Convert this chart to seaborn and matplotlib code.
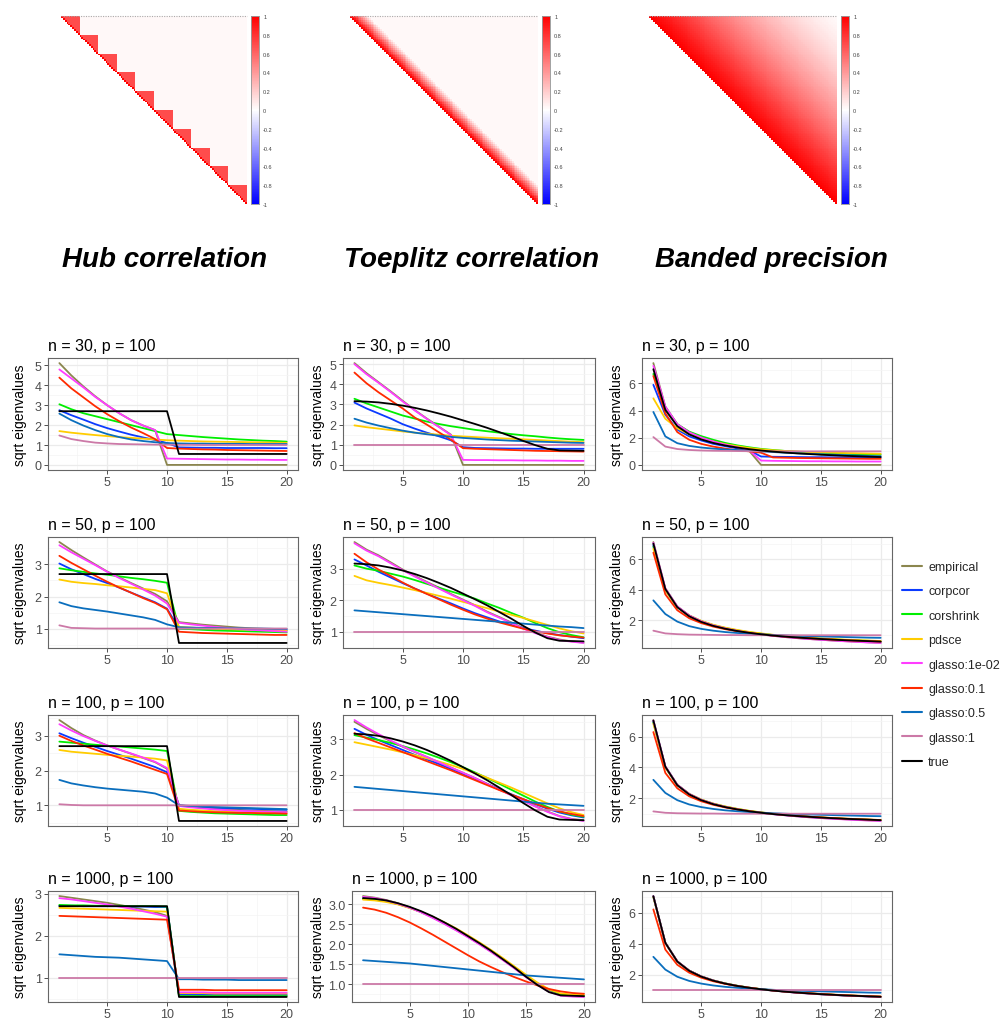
import numpy as np
import pandas as pd
import matplotlib
matplotlib.use("Agg")
import matplotlib.pyplot as plt
from matplotlib.colors import LinearSegmentedColormap
from matplotlib.lines import Line2D
from matplotlib.ticker import FixedLocator, MultipleLocator, AutoMinorLocator, FormatStrFormatter
import seaborn as sns

sns.set_theme(style="white")
plt.rcParams["font.family"] = ["Liberation Sans", "DejaVu Sans"]

# ---------------------------------------------------------------- methods
METHODS = ["empirical", "corpcor", "corshrink", "pdsce", "glasso:1e-02",
           "glasso:0.1", "glasso:0.5", "glasso:1", "true"]
COLORS = ["#8B864E", "#0B3BFF", "#00EE00", "#FFCC00", "#FF3DFF",
          "#FF2A00", "#0A6EBD", "#CC79A7", "#000000"]
INDEX = list(range(1, 21))

# ---------------------------------------------------------------- correlation structures
P = 100
HUB_BLOCK = 10
HUB_WITHIN = 0.7
BACKGROUND_CORR = 0.03
TOEPLITZ_LAG_CORR = [1.0, 0.9, 0.8, 0.7, 0.6, 0.5, 0.4, 0.3, 0.2, 0.1]
BANDED_LAGS = [0, 10, 20, 30, 40, 50, 60, 70, 80, 90, 99]
BANDED_LAG_CORR = [1.0, 0.88, 0.75, 0.62, 0.5, 0.39, 0.29, 0.2, 0.12, 0.06, 0.02]

# ---------------------------------------------------------------- sqrt eigenvalues: hub
HUB_N30 = {
    "empirical":    [5.12, 4.5, 3.95, 3.45, 3.0, 2.6, 2.25, 1.98, 1.75, 0.0, 0.0, 0.0, 0.0, 0.0, 0.0, 0.0, 0.0, 0.0, 0.0, 0.0],
    "corpcor":      [2.75, 2.5, 2.28, 2.05, 1.85, 1.68, 1.52, 1.38, 1.25, 1.1, 0.88, 0.87, 0.86, 0.86, 0.85, 0.85, 0.85, 0.85, 0.84, 0.84],
    "corshrink":    [3.05, 2.8, 2.6, 2.45, 2.3, 2.15, 2.0, 1.85, 1.7, 1.55, 1.5, 1.45, 1.4, 1.36, 1.32, 1.28, 1.25, 1.22, 1.2, 1.17],
    "pdsce":        [1.7, 1.62, 1.56, 1.5, 1.45, 1.4, 1.36, 1.32, 1.28, 1.24, 1.22, 1.2, 1.18, 1.17, 1.16, 1.15, 1.14, 1.13, 1.12, 1.11],
    "glasso:1e-02": [4.8, 4.35, 3.9, 3.42, 3.0, 2.6, 2.25, 1.98, 1.75, 0.32, 0.31, 0.3, 0.29, 0.28, 0.27, 0.27, 0.26, 0.26, 0.25, 0.25],
    "glasso:0.1":   [4.39, 3.85, 3.4, 2.95, 2.55, 2.2, 1.88, 1.6, 1.3, 0.85, 0.82, 0.8, 0.78, 0.77, 0.75, 0.74, 0.73, 0.72, 0.71, 0.7],
    "glasso:0.5":   [2.58, 2.25, 1.98, 1.75, 1.55, 1.4, 1.28, 1.2, 1.14, 1.1, 1.08, 1.07, 1.07, 1.06, 1.06, 1.06, 1.05, 1.05, 1.05, 1.05],
    "glasso:1":     [1.48, 1.3, 1.2, 1.12, 1.08, 1.05, 1.04, 1.03, 1.02, 1.02, 1.01, 1.01, 1.0, 1.0, 1.0, 1.0, 1.0, 1.0, 1.0, 1.0],
    "true":         [2.7, 2.7, 2.7, 2.7, 2.7, 2.7, 2.7, 2.7, 2.7, 2.7, 0.55, 0.55, 0.55, 0.55, 0.55, 0.55, 0.55, 0.55, 0.55, 0.55],
}
HUB_N50 = {
    "empirical":    [3.7, 3.45, 3.22, 3.0, 2.78, 2.6, 2.42, 2.25, 2.08, 1.85, 1.2, 1.16, 1.12, 1.09, 1.06, 1.03, 1.01, 0.99, 0.97, 0.95],
    "corpcor":      [3.03, 2.85, 2.7, 2.55, 2.42, 2.28, 2.12, 1.97, 1.82, 1.62, 1.0, 0.99, 0.98, 0.98, 0.97, 0.97, 0.97, 0.96, 0.96, 0.96],
    "corshrink":    [2.88, 2.82, 2.77, 2.72, 2.68, 2.63, 2.58, 2.54, 2.49, 2.43, 1.0, 0.98, 0.96, 0.94, 0.93, 0.92, 0.91, 0.9, 0.89, 0.88],
    "pdsce":        [2.53, 2.46, 2.42, 2.39, 2.35, 2.32, 2.28, 2.24, 2.2, 2.1, 1.05, 1.03, 1.01, 0.99, 0.98, 0.97, 0.96, 0.95, 0.94, 0.93],
    "glasso:1e-02": [3.6, 3.38, 3.18, 2.98, 2.77, 2.58, 2.4, 2.22, 2.03, 1.78, 1.18, 1.13, 1.09, 1.05, 1.02, 0.99, 0.96, 0.94, 0.92, 0.9],
    "glasso:0.1":   [3.27, 3.05, 2.85, 2.65, 2.46, 2.28, 2.12, 1.95, 1.8, 1.6, 0.9, 0.88, 0.86, 0.85, 0.84, 0.83, 0.82, 0.81, 0.8, 0.8],
    "glasso:0.5":   [1.82, 1.7, 1.63, 1.58, 1.53, 1.47, 1.41, 1.35, 1.27, 1.13, 1.04, 1.03, 1.02, 1.02, 1.01, 1.01, 1.0, 1.0, 0.99, 0.99],
    "glasso:1":     [1.1, 1.02, 1.01, 1.0, 1.0, 1.0, 1.0, 1.0, 1.0, 1.0, 1.0, 1.0, 1.0, 1.0, 1.0, 1.0, 1.0, 1.0, 1.0, 1.0],
    "true":         [2.7, 2.7, 2.7, 2.7, 2.7, 2.7, 2.7, 2.7, 2.7, 2.7, 0.55, 0.55, 0.55, 0.55, 0.55, 0.55, 0.55, 0.55, 0.55, 0.55],
}
HUB_N100 = {
    "empirical":    [3.45, 3.22, 3.02, 2.86, 2.72, 2.6, 2.48, 2.36, 2.24, 2.05, 1.0, 0.96, 0.93, 0.9, 0.88, 0.87, 0.85, 0.84, 0.83, 0.82],
    "corpcor":      [3.07, 2.93, 2.8, 2.68, 2.56, 2.45, 2.34, 2.22, 2.1, 1.95, 1.0, 0.97, 0.95, 0.93, 0.92, 0.91, 0.9, 0.89, 0.88, 0.87],
    "corshrink":    [2.83, 2.8, 2.77, 2.74, 2.71, 2.69, 2.66, 2.63, 2.6, 2.56, 0.84, 0.81, 0.79, 0.77, 0.76, 0.75, 0.74, 0.73, 0.72, 0.72],
    "pdsce":        [2.59, 2.54, 2.51, 2.48, 2.45, 2.42, 2.4, 2.37, 2.34, 2.29, 0.9, 0.87, 0.85, 0.83, 0.82, 0.81, 0.8, 0.79, 0.78, 0.78],
    "glasso:1e-02": [3.33, 3.15, 2.99, 2.85, 2.72, 2.6, 2.49, 2.37, 2.25, 2.07, 0.98, 0.94, 0.91, 0.88, 0.86, 0.84, 0.83, 0.82, 0.81, 0.8],
    "glasso:0.1":   [3.0, 2.85, 2.72, 2.6, 2.48, 2.37, 2.26, 2.14, 2.02, 1.9, 0.85, 0.83, 0.81, 0.8, 0.79, 0.78, 0.78, 0.77, 0.77, 0.76],
    "glasso:0.5":   [1.73, 1.63, 1.57, 1.52, 1.48, 1.45, 1.42, 1.39, 1.34, 1.22, 1.0, 0.98, 0.96, 0.95, 0.94, 0.93, 0.92, 0.91, 0.9, 0.89],
    "glasso:1":     [1.03, 1.01, 1.0, 1.0, 1.0, 1.0, 1.0, 1.0, 1.0, 1.0, 1.0, 1.0, 1.0, 1.0, 1.0, 1.0, 1.0, 1.0, 1.0, 1.0],
    "true":         [2.7, 2.7, 2.7, 2.7, 2.7, 2.7, 2.7, 2.7, 2.7, 2.7, 0.55, 0.55, 0.55, 0.55, 0.55, 0.55, 0.55, 0.55, 0.55, 0.55],
}
HUB_N1000 = {
    "empirical":    [2.94, 2.9, 2.86, 2.82, 2.78, 2.73, 2.68, 2.62, 2.56, 2.47, 0.6, 0.6, 0.59, 0.59, 0.59, 0.58, 0.58, 0.58, 0.58, 0.58],
    "corpcor":      [2.71, 2.71, 2.7, 2.7, 2.7, 2.7, 2.69, 2.69, 2.68, 2.68, 0.6, 0.6, 0.6, 0.6, 0.6, 0.6, 0.6, 0.6, 0.6, 0.6],
    "corshrink":    [2.73, 2.72, 2.72, 2.71, 2.71, 2.71, 2.7, 2.7, 2.7, 2.69, 0.57, 0.57, 0.57, 0.57, 0.57, 0.57, 0.57, 0.57, 0.57, 0.57],
    "pdsce":        [2.66, 2.65, 2.64, 2.63, 2.62, 2.61, 2.6, 2.59, 2.58, 2.57, 0.64, 0.64, 0.64, 0.63, 0.63, 0.63, 0.63, 0.63, 0.63, 0.63],
    "glasso:1e-02": [2.89, 2.86, 2.82, 2.78, 2.74, 2.69, 2.64, 2.58, 2.52, 2.45, 0.66, 0.66, 0.66, 0.65, 0.65, 0.65, 0.65, 0.65, 0.65, 0.65],
    "glasso:0.1":   [2.47, 2.46, 2.45, 2.44, 2.43, 2.42, 2.41, 2.4, 2.39, 2.38, 0.72, 0.72, 0.72, 0.71, 0.71, 0.71, 0.71, 0.71, 0.71, 0.71],
    "glasso:0.5":   [1.56, 1.54, 1.52, 1.5, 1.49, 1.48, 1.46, 1.44, 1.42, 1.4, 0.97, 0.97, 0.96, 0.96, 0.96, 0.95, 0.95, 0.95, 0.95, 0.95],
    "glasso:1":     [1.0, 1.0, 1.0, 1.0, 1.0, 1.0, 1.0, 1.0, 1.0, 1.0, 1.0, 1.0, 1.0, 1.0, 1.0, 1.0, 1.0, 1.0, 1.0, 1.0],
    "true":         [2.7, 2.7, 2.7, 2.7, 2.7, 2.7, 2.7, 2.7, 2.7, 2.7, 0.55, 0.55, 0.55, 0.55, 0.55, 0.55, 0.55, 0.55, 0.55, 0.55],
}

# ---------------------------------------------------------------- sqrt eigenvalues: Toeplitz
TOEP_N30 = {
    "empirical":    [5.05, 4.55, 4.1, 3.65, 3.18, 2.72, 2.3, 1.9, 1.5, 0.0, 0.0, 0.0, 0.0, 0.0, 0.0, 0.0, 0.0, 0.0, 0.0, 0.0],
    "corpcor":      [3.09, 2.8, 2.55, 2.3, 2.02, 1.8, 1.6, 1.42, 1.22, 0.88, 0.84, 0.83, 0.82, 0.81, 0.81, 0.8, 0.8, 0.8, 0.8, 0.8],
    "corshrink":    [3.28, 3.05, 2.85, 2.65, 2.45, 2.3, 2.15, 2.03, 1.92, 1.83, 1.74, 1.67, 1.6, 1.53, 1.47, 1.42, 1.36, 1.31, 1.27, 1.24],
    "pdsce":        [1.96, 1.87, 1.8, 1.73, 1.66, 1.6, 1.55, 1.5, 1.45, 1.41, 1.38, 1.35, 1.32, 1.3, 1.27, 1.24, 1.21, 1.18, 1.15, 1.13],
    "glasso:1e-02": [5.0, 4.5, 4.07, 3.62, 3.15, 2.7, 2.28, 1.88, 1.48, 0.25, 0.24, 0.24, 0.23, 0.23, 0.22, 0.22, 0.21, 0.21, 0.2, 0.2],
    "glasso:0.1":   [4.58, 4.05, 3.6, 3.2, 2.8, 2.35, 2.0, 1.62, 1.25, 0.83, 0.8, 0.78, 0.76, 0.74, 0.72, 0.7, 0.69, 0.68, 0.67, 0.66],
    "glasso:0.5":   [2.29, 2.1, 1.95, 1.82, 1.7, 1.6, 1.52, 1.45, 1.39, 1.34, 1.3, 1.26, 1.23, 1.2, 1.18, 1.16, 1.14, 1.12, 1.1, 1.09],
    "glasso:1":     [1.0, 1.0, 1.0, 1.0, 1.0, 1.0, 1.0, 1.0, 1.0, 1.0, 1.0, 1.0, 1.0, 1.0, 1.0, 1.0, 1.0, 1.0, 1.0, 1.0],
    "true":         [3.16, 3.14, 3.1, 3.03, 2.94, 2.83, 2.7, 2.55, 2.39, 2.21, 2.03, 1.84, 1.63, 1.42, 1.19, 0.98, 0.8, 0.72, 0.71, 0.7],
}
TOEP_N50 = {
    "empirical":    [3.84, 3.6, 3.42, 3.2, 2.97, 2.77, 2.58, 2.4, 2.2, 2.02, 1.84, 1.64, 1.47, 1.3, 1.12, 0.98, 0.85, 0.76, 0.7, 0.66],
    "corpcor":      [3.29, 3.1, 2.9, 2.72, 2.54, 2.37, 2.21, 2.05, 1.9, 1.74, 1.59, 1.46, 1.33, 1.22, 1.12, 1.04, 0.96, 0.9, 0.85, 0.8],
    "corshrink":    [3.1, 3.0, 2.93, 2.84, 2.75, 2.64, 2.52, 2.4, 2.28, 2.17, 2.05, 1.9, 1.76, 1.6, 1.45, 1.28, 1.12, 0.99, 0.9, 0.83],
    "pdsce":        [2.77, 2.63, 2.55, 2.48, 2.4, 2.32, 2.23, 2.14, 2.05, 1.95, 1.85, 1.75, 1.64, 1.54, 1.44, 1.33, 1.22, 1.11, 1.02, 0.95],
    "glasso:1e-02": [3.8, 3.57, 3.39, 3.17, 2.95, 2.75, 2.56, 2.37, 2.18, 2.0, 1.82, 1.62, 1.45, 1.28, 1.1, 0.96, 0.84, 0.74, 0.69, 0.65],
    "glasso:0.1":   [3.47, 3.2, 2.97, 2.77, 2.56, 2.37, 2.2, 2.03, 1.86, 1.7, 1.55, 1.42, 1.3, 1.2, 1.1, 1.02, 0.95, 0.89, 0.85, 0.82],
    "glasso:0.5":   [1.68, 1.65, 1.62, 1.59, 1.56, 1.53, 1.5, 1.47, 1.44, 1.41, 1.38, 1.35, 1.32, 1.29, 1.26, 1.23, 1.2, 1.17, 1.15, 1.12],
    "glasso:1":     [1.0, 1.0, 1.0, 1.0, 1.0, 1.0, 1.0, 1.0, 1.0, 1.0, 1.0, 1.0, 1.0, 1.0, 1.0, 1.0, 1.0, 1.0, 1.0, 1.0],
    "true":         [3.16, 3.14, 3.1, 3.03, 2.94, 2.83, 2.7, 2.55, 2.39, 2.21, 2.03, 1.84, 1.63, 1.42, 1.19, 0.98, 0.8, 0.72, 0.71, 0.7],
}
TOEP_N100 = {
    "empirical":    [3.5, 3.3, 3.12, 2.95, 2.79, 2.64, 2.5, 2.35, 2.2, 2.05, 1.9, 1.74, 1.58, 1.42, 1.26, 1.1, 0.95, 0.82, 0.74, 0.7],
    "corpcor":      [3.3, 3.13, 2.98, 2.84, 2.7, 2.56, 2.43, 2.3, 2.16, 2.02, 1.88, 1.73, 1.58, 1.44, 1.3, 1.16, 1.03, 0.92, 0.84, 0.78],
    "corshrink":    [3.12, 3.05, 2.98, 2.9, 2.81, 2.71, 2.6, 2.48, 2.35, 2.21, 2.06, 1.9, 1.74, 1.57, 1.4, 1.23, 1.08, 0.95, 0.86, 0.8],
    "pdsce":        [2.92, 2.85, 2.78, 2.71, 2.63, 2.55, 2.46, 2.37, 2.27, 2.16, 2.04, 1.91, 1.77, 1.63, 1.48, 1.33, 1.18, 1.04, 0.93, 0.85],
    "glasso:1e-02": [3.55, 3.34, 3.15, 2.97, 2.8, 2.65, 2.5, 2.35, 2.2, 2.05, 1.9, 1.73, 1.57, 1.41, 1.25, 1.09, 0.94, 0.81, 0.73, 0.68],
    "glasso:0.1":   [3.18, 3.03, 2.9, 2.77, 2.64, 2.51, 2.38, 2.25, 2.12, 1.98, 1.84, 1.7, 1.56, 1.43, 1.3, 1.17, 1.05, 0.95, 0.88, 0.82],
    "glasso:0.5":   [1.65, 1.62, 1.59, 1.56, 1.53, 1.5, 1.47, 1.44, 1.41, 1.38, 1.35, 1.32, 1.29, 1.26, 1.23, 1.2, 1.17, 1.15, 1.13, 1.11],
    "glasso:1":     [1.0, 1.0, 1.0, 1.0, 1.0, 1.0, 1.0, 1.0, 1.0, 1.0, 1.0, 1.0, 1.0, 1.0, 1.0, 1.0, 1.0, 1.0, 1.0, 1.0],
    "true":         [3.16, 3.14, 3.1, 3.03, 2.94, 2.83, 2.7, 2.55, 2.39, 2.21, 2.03, 1.84, 1.63, 1.42, 1.19, 0.98, 0.8, 0.72, 0.71, 0.7],
}
TOEP_N1000 = {
    "empirical":    [3.21, 3.17, 3.11, 3.03, 2.93, 2.81, 2.67, 2.52, 2.36, 2.19, 2.01, 1.82, 1.62, 1.41, 1.2, 1.0, 0.83, 0.73, 0.7, 0.69],
    "corpcor":      [3.15, 3.13, 3.08, 3.01, 2.92, 2.81, 2.68, 2.53, 2.37, 2.2, 2.02, 1.83, 1.63, 1.42, 1.2, 0.99, 0.82, 0.73, 0.71, 0.7],
    "corshrink":    [3.14, 3.12, 3.08, 3.01, 2.92, 2.81, 2.68, 2.54, 2.38, 2.21, 2.03, 1.84, 1.64, 1.43, 1.21, 1.0, 0.83, 0.74, 0.72, 0.71],
    "pdsce":        [3.12, 3.1, 3.06, 3.0, 2.91, 2.81, 2.69, 2.55, 2.4, 2.23, 2.05, 1.86, 1.66, 1.45, 1.24, 1.04, 0.87, 0.77, 0.74, 0.73],
    "glasso:1e-02": [3.19, 3.16, 3.1, 3.02, 2.92, 2.8, 2.66, 2.51, 2.35, 2.18, 2.0, 1.81, 1.61, 1.4, 1.18, 0.98, 0.81, 0.71, 0.69, 0.68],
    "glasso:0.1":   [2.92, 2.87, 2.79, 2.68, 2.55, 2.4, 2.24, 2.07, 1.9, 1.73, 1.57, 1.43, 1.3, 1.18, 1.07, 0.97, 0.88, 0.82, 0.78, 0.76],
    "glasso:0.5":   [1.6, 1.58, 1.56, 1.54, 1.52, 1.49, 1.46, 1.43, 1.4, 1.37, 1.34, 1.31, 1.28, 1.25, 1.22, 1.2, 1.18, 1.16, 1.14, 1.12],
    "glasso:1":     [1.0, 1.0, 1.0, 1.0, 1.0, 1.0, 1.0, 1.0, 1.0, 1.0, 1.0, 1.0, 1.0, 1.0, 1.0, 1.0, 1.0, 1.0, 1.0, 1.0],
    "true":         [3.16, 3.14, 3.1, 3.03, 2.94, 2.83, 2.7, 2.55, 2.39, 2.21, 2.03, 1.84, 1.63, 1.42, 1.19, 0.98, 0.8, 0.72, 0.71, 0.7],
}

# ---------------------------------------------------------------- sqrt eigenvalues: banded precision
BAND_N30 = {
    "empirical":    [7.5, 4.3, 3.0, 2.4, 2.05, 1.75, 1.5, 1.3, 1.05, 0.0, 0.0, 0.0, 0.0, 0.0, 0.0, 0.0, 0.0, 0.0, 0.0, 0.0],
    "corpcor":      [5.9, 3.7, 2.6, 2.1, 1.8, 1.55, 1.38, 1.22, 1.08, 0.62, 0.6, 0.59, 0.58, 0.57, 0.57, 0.56, 0.56, 0.55, 0.55, 0.55],
    "corshrink":    [6.7, 4.25, 3.0, 2.45, 2.12, 1.85, 1.62, 1.44, 1.3, 1.18, 1.1, 1.03, 0.97, 0.92, 0.88, 0.84, 0.81, 0.79, 0.77, 0.75],
    "pdsce":        [4.9, 3.4, 2.7, 2.25, 1.95, 1.72, 1.53, 1.38, 1.25, 1.15, 1.08, 1.03, 0.99, 0.95, 0.92, 0.9, 0.88, 0.86, 0.84, 0.82],
    "glasso:1e-02": [7.3, 4.3, 3.0, 2.4, 2.02, 1.73, 1.5, 1.3, 1.08, 0.32, 0.3, 0.29, 0.28, 0.27, 0.27, 0.26, 0.26, 0.25, 0.25, 0.25],
    "glasso:0.1":   [6.55, 3.8, 2.42, 1.85, 1.55, 1.35, 1.2, 1.08, 1.0, 0.9, 0.55, 0.53, 0.51, 0.5, 0.49, 0.48, 0.47, 0.46, 0.45, 0.45],
    "glasso:0.5":   [3.9, 2.1, 1.6, 1.4, 1.28, 1.2, 1.14, 1.09, 1.05, 1.0, 0.95, 0.9, 0.86, 0.82, 0.78, 0.75, 0.72, 0.69, 0.66, 0.64],
    "glasso:1":     [2.05, 1.35, 1.17, 1.1, 1.06, 1.04, 1.03, 1.02, 1.01, 1.01, 1.0, 1.0, 1.0, 1.0, 1.0, 1.0, 1.0, 1.0, 1.0, 1.0],
    "true":         [7.05, 4.05, 2.85, 2.25, 1.88, 1.62, 1.43, 1.28, 1.16, 1.06, 0.98, 0.91, 0.85, 0.8, 0.75, 0.71, 0.67, 0.64, 0.61, 0.58],
}
BAND_N50 = {
    "empirical":    [7.15, 4.1, 2.9, 2.3, 1.92, 1.65, 1.45, 1.29, 1.16, 1.05, 0.96, 0.88, 0.81, 0.75, 0.7, 0.65, 0.61, 0.57, 0.53, 0.5],
    "corpcor":      [6.95, 4.0, 2.85, 2.27, 1.9, 1.64, 1.45, 1.3, 1.17, 1.07, 0.98, 0.9, 0.84, 0.78, 0.73, 0.69, 0.65, 0.62, 0.59, 0.56],
    "corshrink":    [6.85, 4.0, 2.87, 2.3, 1.93, 1.67, 1.48, 1.32, 1.2, 1.1, 1.01, 0.94, 0.87, 0.82, 0.77, 0.73, 0.69, 0.66, 0.63, 0.6],
    "pdsce":        [6.7, 3.95, 2.85, 2.3, 1.95, 1.69, 1.5, 1.35, 1.22, 1.12, 1.03, 0.96, 0.89, 0.84, 0.79, 0.75, 0.71, 0.68, 0.65, 0.62],
    "glasso:1e-02": [7.1, 4.08, 2.9, 2.3, 1.92, 1.65, 1.45, 1.29, 1.16, 1.05, 0.96, 0.88, 0.81, 0.75, 0.7, 0.65, 0.6, 0.56, 0.52, 0.49],
    "glasso:0.1":   [6.45, 3.7, 2.65, 2.12, 1.8, 1.57, 1.4, 1.26, 1.15, 1.06, 0.98, 0.91, 0.85, 0.8, 0.75, 0.71, 0.67, 0.64, 0.61, 0.58],
    "glasso:0.5":   [3.3, 2.4, 1.9, 1.6, 1.42, 1.3, 1.21, 1.15, 1.1, 1.06, 1.02, 0.99, 0.96, 0.94, 0.92, 0.9, 0.88, 0.86, 0.84, 0.83],
    "glasso:1":     [1.3, 1.12, 1.07, 1.04, 1.03, 1.02, 1.01, 1.01, 1.0, 1.0, 1.0, 1.0, 1.0, 1.0, 1.0, 1.0, 1.0, 1.0, 1.0, 1.0],
    "true":         [7.05, 4.05, 2.85, 2.25, 1.88, 1.62, 1.43, 1.28, 1.16, 1.06, 0.98, 0.91, 0.85, 0.8, 0.75, 0.71, 0.67, 0.64, 0.61, 0.58],
}
BAND_N100 = {
    "empirical":    [7.08, 4.08, 2.88, 2.28, 1.9, 1.64, 1.44, 1.29, 1.16, 1.06, 0.97, 0.9, 0.83, 0.77, 0.72, 0.68, 0.64, 0.6, 0.57, 0.54],
    "corpcor":      [6.98, 4.02, 2.86, 2.27, 1.9, 1.64, 1.45, 1.3, 1.17, 1.07, 0.98, 0.91, 0.85, 0.79, 0.74, 0.7, 0.66, 0.63, 0.6, 0.57],
    "corshrink":    [6.92, 4.02, 2.87, 2.28, 1.91, 1.65, 1.46, 1.31, 1.18, 1.08, 0.99, 0.92, 0.86, 0.8, 0.75, 0.71, 0.67, 0.64, 0.61, 0.58],
    "pdsce":        [6.85, 4.0, 2.86, 2.28, 1.92, 1.66, 1.47, 1.32, 1.19, 1.09, 1.0, 0.93, 0.87, 0.81, 0.76, 0.72, 0.68, 0.65, 0.62, 0.59],
    "glasso:1e-02": [7.05, 4.07, 2.88, 2.28, 1.9, 1.64, 1.44, 1.29, 1.16, 1.06, 0.97, 0.9, 0.83, 0.77, 0.72, 0.67, 0.63, 0.59, 0.56, 0.53],
    "glasso:0.1":   [6.3, 3.65, 2.65, 2.13, 1.81, 1.58, 1.41, 1.27, 1.16, 1.07, 0.99, 0.92, 0.86, 0.81, 0.76, 0.72, 0.68, 0.65, 0.62, 0.59],
    "glasso:0.5":   [3.2, 2.35, 1.88, 1.6, 1.43, 1.31, 1.22, 1.16, 1.11, 1.07, 1.03, 1.0, 0.97, 0.95, 0.93, 0.91, 0.89, 0.87, 0.85, 0.84],
    "glasso:1":     [1.15, 1.06, 1.03, 1.02, 1.01, 1.01, 1.0, 1.0, 1.0, 1.0, 1.0, 1.0, 1.0, 1.0, 1.0, 1.0, 1.0, 1.0, 1.0, 1.0],
    "true":         [7.05, 4.05, 2.85, 2.25, 1.88, 1.62, 1.43, 1.28, 1.16, 1.06, 0.98, 0.91, 0.85, 0.8, 0.75, 0.71, 0.67, 0.64, 0.61, 0.58],
}
BAND_N1000 = {
    "empirical":    [7.06, 4.06, 2.86, 2.26, 1.89, 1.63, 1.43, 1.28, 1.16, 1.06, 0.98, 0.91, 0.84, 0.79, 0.74, 0.7, 0.66, 0.63, 0.6, 0.57],
    "corpcor":      [7.03, 4.05, 2.85, 2.26, 1.89, 1.63, 1.44, 1.29, 1.17, 1.07, 0.99, 0.92, 0.85, 0.8, 0.75, 0.71, 0.67, 0.64, 0.61, 0.58],
    "corshrink":    [7.02, 4.05, 2.85, 2.26, 1.89, 1.63, 1.44, 1.29, 1.17, 1.07, 0.99, 0.92, 0.86, 0.8, 0.75, 0.71, 0.67, 0.64, 0.61, 0.58],
    "pdsce":        [7.0, 4.04, 2.85, 2.26, 1.89, 1.63, 1.44, 1.29, 1.17, 1.07, 0.99, 0.92, 0.86, 0.81, 0.76, 0.72, 0.68, 0.65, 0.62, 0.59],
    "glasso:1e-02": [7.05, 4.05, 2.86, 2.26, 1.89, 1.63, 1.43, 1.28, 1.16, 1.06, 0.98, 0.91, 0.84, 0.79, 0.74, 0.7, 0.66, 0.63, 0.6, 0.57],
    "glasso:0.1":   [6.2, 3.62, 2.64, 2.13, 1.81, 1.58, 1.41, 1.27, 1.16, 1.07, 0.99, 0.92, 0.86, 0.81, 0.76, 0.72, 0.68, 0.65, 0.62, 0.6],
    "glasso:0.5":   [3.15, 2.33, 1.87, 1.6, 1.43, 1.31, 1.22, 1.16, 1.11, 1.07, 1.03, 1.0, 0.97, 0.95, 0.93, 0.91, 0.89, 0.87, 0.85, 0.84],
    "glasso:1":     [1.0, 1.0, 1.0, 1.0, 1.0, 1.0, 1.0, 1.0, 1.0, 1.0, 1.0, 1.0, 1.0, 1.0, 1.0, 1.0, 1.0, 1.0, 1.0, 1.0],
    "true":         [7.05, 4.05, 2.85, 2.25, 1.88, 1.62, 1.43, 1.28, 1.16, 1.06, 0.98, 0.91, 0.85, 0.8, 0.75, 0.71, 0.67, 0.64, 0.61, 0.58],
}

SAMPLE_SIZES = [30, 50, 100, 1000]
PANELS = [
    [HUB_N30, TOEP_N30, BAND_N30],
    [HUB_N50, TOEP_N50, BAND_N50],
    [HUB_N100, TOEP_N100, BAND_N100],
    [HUB_N1000, TOEP_N1000, BAND_N1000],
]
STRUCTURE_TITLES = ["Hub correlation", "Toeplitz correlation", "Banded precision"]

# ---------------------------------------------------------------- build matrices
lag = np.abs(np.subtract.outer(np.arange(P), np.arange(P)))
block = np.arange(P) // HUB_BLOCK
hub = np.where(block[:, None] == block[None, :], HUB_WITHIN, BACKGROUND_CORR)
np.fill_diagonal(hub, 1.0)
toep = np.full((P, P), BACKGROUND_CORR)
for k, r in enumerate(TOEPLITZ_LAG_CORR):
    toep[lag == k] = r
banded = np.interp(lag, BANDED_LAGS, BANDED_LAG_CORR)
MATRICES = [hub, toep, banded]

# ---------------------------------------------------------------- figure
W, H = 1003, 1020
fig = plt.figure(figsize=(W / 100, H / 100), dpi=100)
fig.patch.set_facecolor("white")


def px_axes(left, top, width, height):
    return fig.add_axes([left / W, 1 - (top + height) / H, width / W, height / H])


corr_cmap = LinearSegmentedColormap.from_list("corr", ["#0000FF", "#FFFFFF", "#FF0000"])
heat_boxes = [(61, 17, 186, 188), (350, 17, 188, 188), (649, 17, 188, 188)]
cbar_boxes = [(251, 17, 8, 188), (542, 17, 8, 188), (841, 17, 8, 188)]
cbar_ticks = [-1, -0.8, -0.6, -0.4, -0.2, 0, 0.2, 0.4, 0.6, 0.8, 1]
cbar_labels = ["-1", "-0.8", "-0.6", "-0.4", "-0.2", "0", "0.2", "0.4", "0.6", "0.8", "1"]

for mat, hb, cb in zip(MATRICES, heat_boxes, cbar_boxes):
    ax = px_axes(*hb)
    cax = px_axes(*cb)
    mask = np.tril(np.ones_like(mat, dtype=bool), k=-1)
    sns.heatmap(mat, mask=mask, cmap=corr_cmap, vmin=-1, vmax=1, ax=ax,
                cbar_ax=cax, xticklabels=False, yticklabels=False)
    ax.set_facecolor("white")
    # dotted outline along the first row of tiles
    ax.plot([0, P], [0, 0], color="#AAAAAA", linewidth=0.8, linestyle=(0, (1, 1.2)),
            clip_on=False)
    cax.set_yticks(cbar_ticks)
    cax.set_yticklabels(cbar_labels)
    cax.tick_params(labelsize=4, length=0, pad=3, colors="#444444")
    for s in cax.spines.values():
        s.set_visible(True)
        s.set_color("#9A9A9A")
        s.set_linewidth(0.5)

title_x = [165, 472, 771]
for tx, t in zip(title_x, STRUCTURE_TITLES):
    fig.text(tx / W, 1 - 260 / H, t, ha="center", va="center", fontsize=20,
             fontweight="bold", fontstyle="italic", color="black")

# ---------------------------------------------------------------- eigenvalue panels
palette = dict(zip(METHODS, COLORS))
col_right = [298, 595, 892]
ylabel_center = [20, 318, 617]
panel_left = [
    [48, 343, 642],
    [48, 343, 642],
    [48, 343, 642],
    [48, 352, 642],
]
row_top = [359, 538, 716, 892]
row_height = [112, 111, 111, 111]
ystep = [
    [1, 1, 2],
    [1, 1, 2],
    [1, 1, 2],
    [1, 0.5, 2],
]

for r, (n, row) in enumerate(zip(SAMPLE_SIZES, PANELS)):
    for c, data in enumerate(row):
        left = panel_left[r][c]
        width = col_right[c] - left
        ax = px_axes(left, row_top[r], width, row_height[r])
        frames = [pd.DataFrame({"index": INDEX, "value": data[m], "method": m}) for m in METHODS]
        df = pd.concat(frames, ignore_index=True)
        sns.lineplot(data=df, x="index", y="value", hue="method", hue_order=METHODS,
                     palette=palette, estimator=None, sort=False, linewidth=1.3,
                     legend=False, ax=ax)
        ax.margins(x=0.05, y=0.05)
        ax.set_facecolor("white")
        ax.xaxis.set_major_locator(FixedLocator([5, 10, 15, 20]))
        ax.xaxis.set_minor_locator(FixedLocator([2.5, 7.5, 12.5, 17.5]))
        step = ystep[r][c]
        ax.yaxis.set_major_locator(MultipleLocator(step))
        ax.yaxis.set_minor_locator(AutoMinorLocator(2))
        if step == 0.5:
            ax.yaxis.set_major_formatter(FormatStrFormatter("%.1f"))
        ax.grid(which="major", color="#EBEBEB", linewidth=0.9)
        ax.grid(which="minor", color="#F4F4F4", linewidth=0.5)
        ax.set_axisbelow(True)
        for s in ax.spines.values():
            s.set_visible(True)
            s.set_color("#666666")
            s.set_linewidth(0.8)
        ax.tick_params(which="major", length=3, width=0.6, color="#333333",
                       labelsize=9, labelcolor="#4D4D4D", pad=1.5,
                       bottom=True, left=True)
        ax.tick_params(which="minor", length=0)
        ax.set_xlabel("")
        ax.set_ylabel("sqrt eigenvalues", fontsize=10, color="black")
        ax.yaxis.set_label_coords((ylabel_center[c] + 7 - left) / width, 0.5)
        ax.set_title(f"n = {n}, p = 100", loc="left", fontsize=11.5, pad=6, color="black")

handles = [Line2D([0], [0], color=col, linewidth=1.5) for col in COLORS]
fig.legend(handles, METHODS, loc="upper left", bbox_to_anchor=(902 / W, 1 - 562 / H),
           frameon=False, fontsize=9, handlelength=1.6, handletextpad=0.5,
           labelspacing=0.99, borderaxespad=0, borderpad=0)

fig.savefig("out.png", dpi=100, facecolor="white")
